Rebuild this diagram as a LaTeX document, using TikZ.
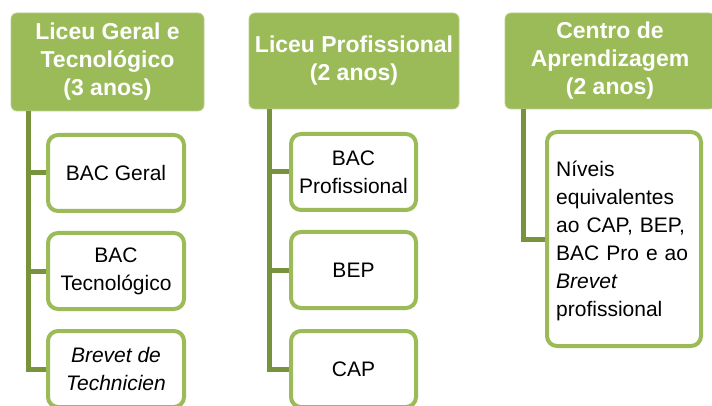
\documentclass[tikz,border=0pt]{standalone}
\usepackage{fontspec}
\setmainfont{Liberation Sans}
\definecolor{hdrgreen}{HTML}{9BBB59}
\definecolor{connline}{HTML}{77933C}
\tikzset{
  hdr/.style={fill=hdrgreen, draw=hdrgreen!70!white, line width=0.8pt, rounded corners=6pt,
    text=white, align=center, inner sep=0pt,
    font=\fontsize{23}{28}\selectfont\bfseries},
  child/.style={draw=hdrgreen, fill=white, line width=4pt, rounded corners=10pt,
    align=center, inner sep=0pt, font=\fontsize{21}{28}\selectfont},
  conn/.style={draw=connline, line width=5pt, line join=miter}
}
\begin{document}
\begin{tikzpicture}[x=1pt,y=-1pt]
\useasboundingbox (0,0) rectangle (712,406);
\clip (0,0) rectangle (712,406);
% headers
\node[hdr, minimum width=193pt, minimum height=98pt] (h1) at (107.5,62) {Liceu Geral e\\Tecnológico\\(3 anos)};
\node[hdr, minimum width=210pt, minimum height=96pt] (h2) at (354,61) {Liceu Profissional\\(2 anos)};
\node[hdr, minimum width=210pt, minimum height=96pt] (h3) at (610,61) {Centro de\\Aprendizagem\\(2 anos)};
% column 1 children
\node[child, minimum width=136pt, minimum height=76pt] (c11) at (116,173) {BAC Geral};
\node[child, minimum width=136pt, minimum height=76pt] (c12) at (116,271) {BAC\\Tecnológico};
\node[child, minimum width=136pt, minimum height=76pt] (c13) at (116,369) {\itshape Brevet de\\\itshape Technicien};
% column 2 children
\node[child, minimum width=125pt, minimum height=76pt] (c21) at (353.5,172) {BAC\\Profissional};
\node[child, minimum width=125pt, minimum height=76pt] (c22) at (353.5,270) {BEP};
\node[child, minimum width=125pt, minimum height=76pt] (c23) at (353.5,369) {CAP};
% column 3 child
\node[child, minimum width=154pt, minimum height=214pt] (c31) at (624,239) {};
\node[anchor=west, align=left, inner sep=0pt, text width=145pt,
  font=\fontsize{21}{28}\selectfont] (t31) at (556,241)
  {Níveis\\equivalentes\\ao CAP, BEP,\\BAC Pro e ao\\\textit{Brevet}\\profissional};
% connectors
\coordinate (s1) at (28,111);
\coordinate (s2) at (269,109);
\coordinate (s3) at (523,109);
\draw[conn] (s1) |- (c11.west);
\draw[conn] (s1) |- (c12.west);
\draw[conn] (s1) |- (c13.west);
\draw[conn] (s2) |- (c21.west);
\draw[conn] (s2) |- (c22.west);
\draw[conn] (s2) |- (c23.west);
\draw[conn] (s3) |- (c31.west);
\end{tikzpicture}
\end{document}
